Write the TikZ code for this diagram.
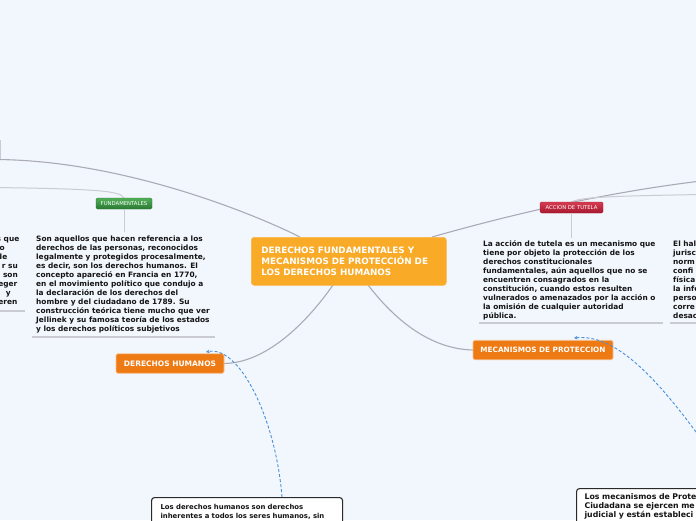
\documentclass[tikz,border=0pt]{standalone}
\usepackage{fontspec}
\setmainfont{DejaVu Sans}
\usetikzlibrary{arrows.meta}
\definecolor{bg}{HTML}{F2F6FD}
\definecolor{centralc}{HTML}{F9AA27}
\definecolor{orangec}{HTML}{EE7A14}
\definecolor{linec}{HTML}{ABABB5}
\definecolor{lightlinec}{HTML}{CBCBD3}
\definecolor{dashc}{HTML}{4A8FDA}
\definecolor{textc}{HTML}{141414}
\definecolor{boxline}{HTML}{2A2A2A}
\definecolor{greentop}{HTML}{52AE58}
\definecolor{greenbot}{HTML}{2A7A33}
\definecolor{redtop}{HTML}{D63C52}
\definecolor{redbot}{HTML}{A6182E}
\begin{document}
\begin{tikzpicture}[x=1pt,y=-1pt,
  centralbox/.style={rectangle, rounded corners=3pt, fill=centralc, draw=centralc!85!white,
    line width=0.6pt, text=white, font=\bfseries\fontsize{8.8}{11}\selectfont, align=left,
    text width=175pt, inner xsep=10pt, inner ysep=0pt, minimum height=48pt, anchor=north west},
  branchbox/.style={rectangle, rounded corners=2pt, fill=orangec, draw=white!55!orangec,
    line width=0.7pt, text=white, font=\bfseries\fontsize{7.5}{9}\selectfont,
    inner sep=0pt, minimum height=19.5pt},
  tagbox/.style={rectangle, rounded corners=1.5pt, text=white,
    font=\fontsize{5.3}{6}\selectfont, inner sep=0pt, minimum height=11pt},
  bodytext/.style={font=\bfseries\fontsize{7.4}{9}\selectfont, text=textc, align=left,
    inner sep=0pt, anchor=north west},
  fragtext/.style={font=\bfseries\fontsize{7.4}{9}\selectfont, text=textc, inner sep=0pt, anchor=base east},
  notebox/.style={rectangle, rounded corners=3pt, fill=white, draw=boxline, line width=1.1pt,
    align=left, anchor=north west, text=textc},
  conn/.style={draw=linec, line width=1.1pt},
  lightconn/.style={draw=lightlinec, line width=1pt},
  underline/.style={draw=lightlinec, line width=1.3pt},
  dashconn/.style={draw=dashc, line width=0.9pt, dash pattern=on 3pt off 2pt,
    -{Stealth[length=3.5pt,width=3.5pt]}}
]
\useasboundingbox (0,0) rectangle (696,520);
\clip (0,0) rectangle (696,520);
\fill[bg] (0,0) rectangle (696,520);

% free-end coordinates
\coordinate (offUL) at (-5,159.5);
\coordinate (offFL) at (-5,187.5);
\coordinate (offUR) at (701,181);
\coordinate (offAR) at (701,194.5);
\coordinate (offMR) at (702,440);
\coordinate (ftop) at (124,232);
\coordinate (atop) at (571.5,238);
\coordinate (cUL) at (300,237);
\coordinate (cUR) at (432,237);
\coordinate (cBL) at (333,285);
\coordinate (cBR) at (368,285);
\coordinate (dhtip) at (206,352);
\coordinate (mectip) at (574,338);
\coordinate (dhboxtop) at (282,497);

% connectors (behind nodes)
\draw[conn] (cUL) .. controls (250,212) and (120,160) .. (offUL);
\draw[lightconn] (124,198) .. controls (120,191) and (100,189) .. (offFL);
\draw[conn] (cUR) .. controls (520,212) and (610,192) .. (offUR);
\draw[lightconn] (571.5,202) .. controls (580,197) and (615,196) .. (offAR);
\draw[conn] (cBL) .. controls (305,325) and (265,363) .. (224,363.5);
\draw[conn] (cBR) .. controls (395,320) and (430,349) .. (473,350);
\draw[lightlinec, line width=1pt] (0.7,140) -- (0.7,159);

% central node
\node[centralbox] (central) at (251,237)
  {DERECHOS FUNDAMENTALES Y\\MECANISMOS DE PROTECCIÓN DE\\LOS DERECHOS HUMANOS};

% branches
\node[branchbox, minimum width=108pt] (dh) at (170,363.5) {DERECHOS HUMANOS};
\node[branchbox, minimum width=140pt, font=\bfseries\fontsize{7.3}{9}\selectfont] (mec) at (543,350) {MECANISMOS DE PROTECCION};

% tags
\node[tagbox, minimum width=56pt, top color=greentop, bottom color=greenbot, draw=greenbot] (fund) at (124,203.5) {FUNDAMENTALES};
\node[tagbox, minimum width=63pt, top color=redtop, bottom color=redbot, draw=redbot] (accion) at (571.5,207.5) {ACCION DE TUTELA};

\draw[lightconn] (fund.south) -- (ftop);
\draw[lightconn] (accion.south) -- (atop);

% body texts
\node[bodytext] (ltext) at (36,235.5) {Son aquellos que hacen referencia a los\\
derechos de las personas, reconocidos\\
legalmente y protegidos procesalmente,\\
es decir, son los derechos humanos. El\\
concepto apareció en Francia en 1770,\\
en el movimiento político que condujo a\\
la declaración de los derechos del\\
hombre y del ciudadano de 1789. Su\\
construcción teórica tiene mucho que ver\\
Jellinek y su famosa teoría de los estados\\
y los derechos políticos subjetivos};
\draw[underline] (32,337) -- (215,337);

\node[bodytext] (rtext) at (483,240.5) {La acción de tutela es un mecanismo que\\
tiene por objeto la protección de los\\
derechos constitucionales\\
fundamentales, aún aquellos que no se\\
encuentren consagrados en la\\
constitución, cuando estos resulten\\
vulnerados o amenazados por la acción o\\
la omisión de cualquier autoridad\\
pública.};
\draw[underline] (479,323) -- (663,323);

\node[bodytext] (frtext) at (673,241) {El hal\\jurisc\\norm\\confi\\física\\la infe\\perso\\corre\\desac};
\draw[underline] (670,323) -- (700,323);

% far-left fragments
\node[fragtext] (fl1) at (19.5,241.3) {s que};
\node[fragtext] (fl2) at (5,250.3) {o};
\node[fragtext] (fl3) at (7.5,259.3) {de};
\node[fragtext] (fl4) at (18,268.3) {r su};
\node[fragtext] (fl5) at (18,277.3) {son};
\node[fragtext] (fl6) at (17.5,286.3) {eger};
\node[fragtext] (fl7) at (11,295.3) {y};
\node[fragtext] (fl8) at (17.5,304.3) {eren};
\draw[underline] (-2,311) -- (25,311);

% note boxes
\node[notebox, text width=173pt, inner xsep=9pt, inner ysep=6.5pt,
  font=\bfseries\fontsize{6.9}{9}\selectfont] (dhbox) at (151,497)
  {Los derechos humanos son derechos\\inherentes a todos los seres humanos, sin};
\node[notebox, text width=140pt, inner xsep=8pt, inner ysep=5.5pt,
  font=\bfseries\fontsize{7.8}{9}\selectfont] (mecbox) at (576,488)
  {Los mecanismos de Prote\\Ciudadana se ejercen me\\judicial y están estableci};

% dashed relations
\draw[dashconn] (dhboxtop) .. controls (276,420) and (240,345) .. (dhtip);
\draw[dashconn] (offMR) .. controls (665,390) and (620,333) .. (mectip);
\end{tikzpicture}
\end{document}
